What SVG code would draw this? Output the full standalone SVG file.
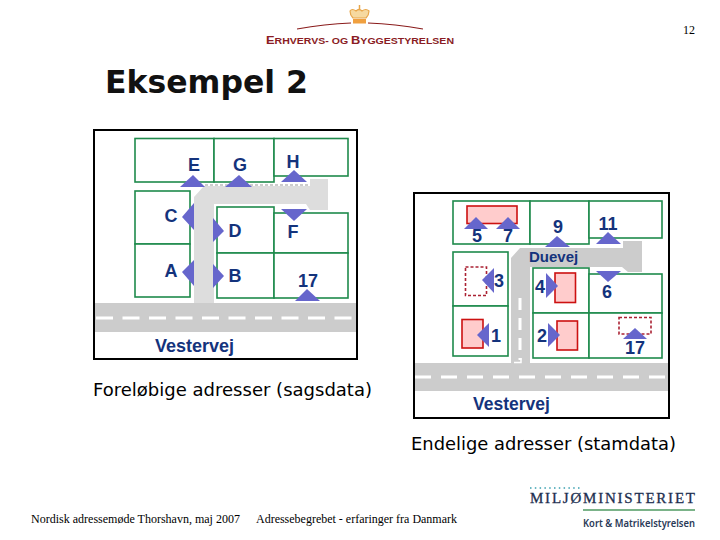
<svg xmlns="http://www.w3.org/2000/svg" width="720" height="540" viewBox="0 0 720 540">
<style>
.frame{fill:#fff;stroke:#000;stroke-width:2}
.lot{fill:#fff;stroke:#1f8a4c;stroke-width:1.6}
.road{fill:#ccc}
.lane{fill:#ddd}
.dash{stroke:#fff;stroke-width:3;fill:none}
.ptr{fill:#6666cc}
.lbl{font:bold 18px "Liberation Sans",Arial,sans-serif;fill:#14337c;text-anchor:middle}
.bld{fill:#ffcccc;stroke:#cc1111;stroke-width:1.6}
.bldd{fill:#fff;stroke:#aa2233;stroke-width:1.6;stroke-dasharray:3 2}
.cap{font:17.5px "DejaVu Sans",sans-serif;fill:#000}
.foot{font:12px "Liberation Serif",serif;fill:#000}
</style>
<rect width="720" height="540" fill="#fff"/>
<g id="logo-top">
<path d="M297 29Q325 24 351 23M368 23Q395 24 423 29" fill="none" stroke="#8a1c1c" stroke-width="1.2"/>
<path d="M350 11Q352 8 356 11Q359 8 362 11Q366 8 369 11Q369 15 366 18H353Q350 15 350 11Z" fill="#f6d9a0" stroke="#e8a64a" stroke-width="1.2"/>
<rect x="353" y="19" width="13" height="4.5" fill="#f0a040"/>
<path d="M359.500 5V9" stroke="#e8a64a" stroke-width="1.500"/>
<text x="266" y="44" textLength="188" lengthAdjust="spacingAndGlyphs" style="font:bold 9px 'Liberation Sans',sans-serif;fill:#8a1c24"><tspan font-size="11">E</tspan>RHVERVS- OG <tspan font-size="11">B</tspan>YGGESTYRELSEN</text>
</g>
<text x="683" y="34" class="foot">12</text>
<text x="105" y="93" style="font:bold 31.500px 'DejaVu Sans',sans-serif;fill:#111">Eksempel 2</text>
<g id="panel-left">
<rect class="frame" x="94" y="130" width="263" height="229"/>
<g id="lots-left">
<rect class="lot" x="135" y="138.500" width="79" height="43.500"/>
<rect class="lot" x="214" y="138.500" width="60" height="43.500"/>
<rect class="lot" x="274" y="138.500" width="74" height="37.500"/>
<rect class="lot" x="135" y="191" width="55" height="53"/>
<rect class="lot" x="135" y="244" width="55" height="53"/>
<rect class="lot" x="217" y="207" width="57" height="46"/>
<rect class="lot" x="217" y="253" width="57" height="45"/>
<rect class="lot" x="274" y="213" width="74" height="40"/>
<rect class="lot" x="274" y="253" width="74" height="45"/>
</g>
<g id="roads-left">
<path d="M205 185H310" stroke="#999" stroke-width="1" stroke-dasharray="3 2" fill="none"/>
<path class="lane" d="M194 303V197L204 186H310V179H328V210H310L306 204H214V303Z"/>
<rect class="road" x="95" y="303" width="261" height="29"/>
<path class="dash" d="M96 318H355" stroke-dasharray="17 9.500"/>
</g>
<g id="pointers-left">
<polygon class="ptr" points="193,175 180,187 205,187"/>
<polygon class="ptr" points="239,175 225,187 252,187"/>
<polygon class="ptr" points="294,170 281,182 307,182"/>
<polygon class="ptr" points="281,209 307,209 294,221"/>
<polygon class="ptr" points="182,217 194,203 194,230"/>
<polygon class="ptr" points="213,218 213,242 224,231"/>
<polygon class="ptr" points="182,272 194,260 194,286"/>
<polygon class="ptr" points="213,264 213,288 224,276"/>
<polygon class="ptr" points="307,289 295,301 320,301"/>
</g>
<g id="labels-left">
<text class="lbl" x="194" y="171">E</text>
<text class="lbl" x="240" y="171">G</text>
<text class="lbl" x="293" y="168">H</text>
<text class="lbl" x="171" y="222">C</text>
<text class="lbl" x="235" y="237">D</text>
<text class="lbl" x="293" y="238">F</text>
<text class="lbl" x="171" y="277">A</text>
<text class="lbl" x="235" y="282">B</text>
<text class="lbl" x="308" y="287">17</text>
<text class="lbl" x="155" y="352" style="text-anchor:start">Vestervej</text>
</g>
</g>
<text class="cap" x="93" y="396" textLength="279" lengthAdjust="spacingAndGlyphs">Foreløbige adresser (sagsdata)</text>
<g id="panel-right">
<rect class="frame" x="414" y="193" width="255" height="225"/>
<g id="lots-right">
<rect class="lot" x="453" y="201" width="77" height="43"/>
<rect class="lot" x="530" y="201" width="59" height="43"/>
<rect class="lot" x="589" y="201" width="73" height="37"/>
<rect class="lot" x="453" y="252" width="55" height="54"/>
<rect class="lot" x="453" y="306" width="55" height="50"/>
<rect class="lot" x="533" y="268" width="56" height="45"/>
<rect class="lot" x="533" y="313" width="56" height="45"/>
<rect class="lot" x="589" y="274" width="73" height="39"/>
<rect class="lot" x="589" y="313" width="73" height="45"/>
</g>
<g id="roads-right">
<path class="road" d="M511 363V258L520 248H623V241H642V272H628L622 267H530V363Z"/>
<rect class="road" x="415" y="363" width="253" height="28"/>
<path class="dash" d="M415 377H667" stroke-dasharray="16 10"/>
<path class="dash" d="M520 298V360" stroke-dasharray="12 8"/>
<path d="M514 362.500H521V358" stroke="#fff" stroke-width="1.500" fill="none"/>
</g>
<g id="buildings-right">
<rect class="bld" x="467" y="206" width="50" height="17.500"/>
<rect class="bld" x="555" y="273" width="20.500" height="29.500"/>
<rect class="bld" x="557" y="321" width="20.500" height="29"/>
<rect class="bld" x="462" y="319.500" width="21" height="28.500"/>
<rect class="bldd" x="465.500" y="267" width="21" height="28.500"/>
<rect class="bldd" x="619" y="317.500" width="32" height="16.500"/>
</g>
<g id="pointers-right">
<polygon class="ptr" points="476,217 464,229 488,229"/>
<polygon class="ptr" points="508,217 496,229 520,229"/>
<polygon class="ptr" points="557,236 545,247 570,247"/>
<polygon class="ptr" points="608,232 596,244 621,244"/>
<polygon class="ptr" points="596,271 621,271 608,282"/>
<polygon class="ptr" points="482,280 494,268 494,293"/>
<polygon class="ptr" points="477,335 489,323 489,347"/>
<polygon class="ptr" points="546,273 546,298 558,286"/>
<polygon class="ptr" points="548,323 548,347 560,335"/>
<polygon class="ptr" points="635,328 623,339 647,339"/>
</g>
<g id="labels-right">
<text class="lbl" x="477" y="242">5</text>
<text class="lbl" x="508" y="242">7</text>
<text class="lbl" x="558" y="233">9</text>
<text class="lbl" x="608" y="230">11</text>
<text class="lbl" x="529" y="262" style="text-anchor:start;font-size:15px">Duevej</text>
<text class="lbl" x="499" y="287">3</text>
<text class="lbl" x="496" y="342">1</text>
<text class="lbl" x="540" y="293">4</text>
<text class="lbl" x="542" y="342">2</text>
<text class="lbl" x="607" y="298">6</text>
<text class="lbl" x="635" y="354">17</text>
<text class="lbl" x="473" y="410" style="text-anchor:start;font-size:17.500px">Vestervej</text>
</g>
</g>
<text class="cap" x="411" y="450" textLength="265" lengthAdjust="spacingAndGlyphs">Endelige adresser (stamdata)</text>
<text class="foot" x="31" y="523" textLength="209" lengthAdjust="spacingAndGlyphs">Nordisk adressemøde Thorshavn, maj 2007</text>
<text class="foot" x="256" y="523" textLength="201" lengthAdjust="spacingAndGlyphs">Adressebegrebet - erfaringer fra Danmark</text>
<g id="logo-bottom">
<path d="M530 488H581" stroke="#3aa0b0" stroke-width="1.500" stroke-dasharray="1.500 3.300" fill="none"/>
<text x="530" y="503" textLength="165" lengthAdjust="spacing" style="font:15px 'Liberation Serif',serif;fill:#1e2f50;stroke:#1e2f50;stroke-width:.3">MILJØMINISTERIET</text>
<path d="M583 510H695" stroke="#4f9a62" stroke-width="1.500" fill="none"/>
<text x="583" y="527" textLength="112" lengthAdjust="spacingAndGlyphs" style="font:600 10.500px 'Noto Sans',sans-serif;fill:#2b3a58">Kort &amp; Matrikelstyrelsen</text>
</g>
</svg>
